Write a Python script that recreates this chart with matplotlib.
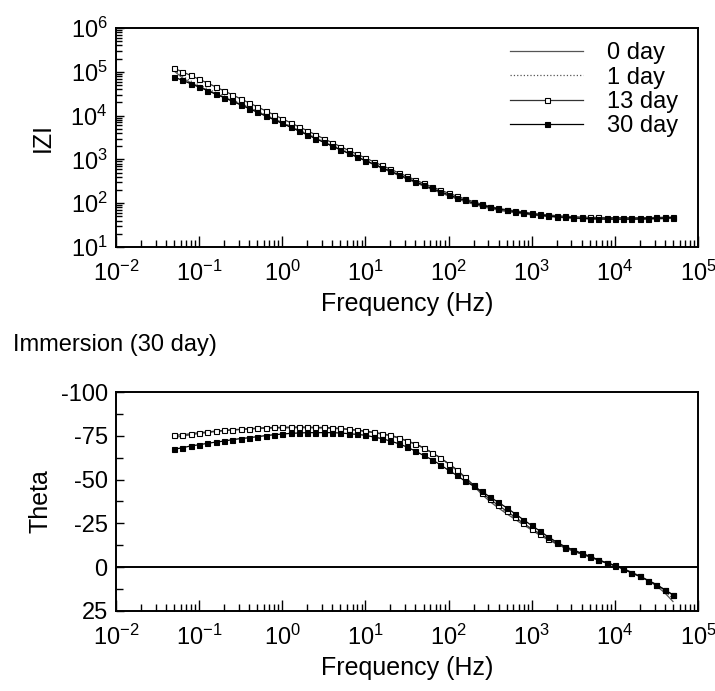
#!/usr/bin/env python
# -*- coding: utf-8 -*-
"""Bode plots (|Z| and phase) for the immersion test, 0/1/13/30 day."""
import numpy as np
import matplotlib
matplotlib.use('Agg')
import matplotlib.pyplot as plt
from matplotlib.ticker import LogLocator, MultipleLocator, NullFormatter

plt.rcParams['font.family'] = ['Liberation Sans', 'DejaVu Sans']
plt.rcParams['mathtext.fontset'] = 'custom'
plt.rcParams['mathtext.rm'] = 'Liberation Sans'
plt.rcParams['mathtext.it'] = 'Liberation Sans'
plt.rcParams['axes.unicode_minus'] = False

# measured frequencies (Hz), 10 points per decade
freq = [0.05, 0.0631, 0.0794, 0.1, 0.126, 0.158, 0.2, 0.251, 0.316, 0.398,
        0.5, 0.631, 0.794, 1, 1.26, 1.58, 2, 2.51, 3.16, 3.98,
        5, 6.31, 7.94, 10, 12.6, 15.8, 20, 25.1, 31.6, 39.8,
        50, 63.1, 79.4, 100, 126, 158, 200, 251, 316, 398,
        500, 631, 794, 1000, 1260, 1580, 2000, 2510, 3160, 3980,
        5000, 6310, 7940, 10000, 12600, 15800, 20000, 25100, 31600, 39800, 50000]

# log10 |Z| (ohm)
logz_0day = [5.02, 4.86, 4.75, 4.665, 4.585, 4.505, 4.424, 4.342, 4.259, 4.175,
             4.090, 4.005, 3.919, 3.833, 3.746, 3.659, 3.572, 3.484, 3.397, 3.310,
             3.224, 3.138, 3.053, 2.968, 2.884, 2.800, 2.717, 2.635, 2.553, 2.472,
             2.393, 2.315, 2.240, 2.168, 2.100, 2.036, 1.978, 1.926, 1.880, 1.842,
             1.810, 1.782, 1.757, 1.734, 1.714, 1.697, 1.682, 1.669, 1.658, 1.650,
             1.644, 1.640, 1.637, 1.635, 1.634, 1.634, 1.636, 1.639, 1.643, 1.649, 1.657]
logz_1day = [5.04, 4.90, 4.79, 4.70, 4.615, 4.532, 4.449, 4.365, 4.280, 4.195,
             4.109, 4.023, 3.937, 3.850, 3.763, 3.676, 3.589, 3.501, 3.414, 3.327,
             3.240, 3.154, 3.068, 2.983, 2.898, 2.814, 2.731, 2.648, 2.566, 2.485,
             2.405, 2.327, 2.251, 2.178, 2.109, 2.044, 1.985, 1.932, 1.886, 1.847,
             1.815, 1.787, 1.762, 1.739, 1.719, 1.702, 1.687, 1.674, 1.663, 1.655,
             1.649, 1.645, 1.642, 1.640, 1.639, 1.639, 1.641, 1.644, 1.648, 1.654, 1.662]
logz_13day = [5.080, 5.000, 4.917, 4.832, 4.745, 4.657, 4.566, 4.475, 4.384, 4.293,
              4.202, 4.111, 4.020, 3.929, 3.838, 3.747, 3.656, 3.565, 3.474, 3.383,
              3.295, 3.207, 3.120, 3.033, 2.947, 2.862, 2.778, 2.695, 2.613, 2.532,
              2.452, 2.375, 2.301, 2.230, 2.162, 2.097, 2.035, 1.977, 1.925, 1.883,
              1.852, 1.828, 1.800, 1.772, 1.752, 1.733, 1.716, 1.702, 1.692, 1.684,
              1.678, 1.675, 1.672, 1.670, 1.669, 1.669, 1.670, 1.672, 1.675, 1.679, 1.685]
logz_30day = [4.881, 4.806, 4.729, 4.651, 4.572, 4.492, 4.411, 4.329, 4.246, 4.162,
              4.078, 3.993, 3.908, 3.822, 3.736, 3.650, 3.563, 3.476, 3.391, 3.306,
              3.222, 3.139, 3.057, 2.975, 2.894, 2.813, 2.733, 2.653, 2.573, 2.494,
              2.415, 2.338, 2.264, 2.193, 2.126, 2.063, 2.005, 1.953, 1.908, 1.869,
              1.836, 1.806, 1.777, 1.750, 1.727, 1.708, 1.692, 1.678, 1.665, 1.655,
              1.648, 1.643, 1.640, 1.639, 1.639, 1.640, 1.643, 1.647, 1.653, 1.661, 1.672]

# phase angle (deg)
theta_0day = [-74.0, -74.8, -75.6, -76.3, -76.9, -77.4, -77.9, -78.3, -78.6, -78.9,
              -79.1, -79.3, -79.4, -79.5, -79.6, -79.6, -79.6, -79.5, -79.4, -79.2,
              -79.0, -78.6, -78.1, -77.5, -76.8, -76.0, -75.0, -73.7, -72.0, -70.2,
              -68.0, -65.4, -62.4, -59.0, -55.2, -51.0, -46.4, -41.6, -37.4, -33.8,
              -30.5, -27.3, -24.2, -21.2, -18.2, -15.6, -13.2, -11.0, -9.2, -7.5,
              -5.9, -4.2, -2.6, -1.0, 0.8, 2.8, 5.0, 7.6, 10.7, 14.6, 19.6]
theta_1day = [-74.6, -75.2, -75.9, -76.5, -77.0, -77.5, -78.0, -78.4, -78.7, -79.0,
              -79.2, -79.4, -79.6, -79.6, -79.8, -79.8, -79.8, -79.6, -79.6, -79.3,
              -79.1, -78.6, -78.2, -77.6, -76.9, -76.1, -75.1, -73.8, -72.0, -70.3,
              -68.1, -65.4, -62.4, -59.0, -55.4, -51.2, -46.6, -42.3, -38.0, -34.5,
              -31.2, -27.9, -24.6, -21.6, -18.6, -15.9, -13.4, -11.1, -9.2, -7.5,
              -5.9, -4.1, -2.5, -0.9, 0.9, 3.0, 5.1, 7.6, 10.3, 13.8, 17.8]
theta_13day = [-75.3, -75.6, -76.2, -76.8, -77.2, -77.7, -78.1, -78.5, -78.7, -79.1,
               -79.4, -79.6, -79.8, -79.8, -80.0, -80.0, -80.0, -79.8, -79.8, -79.5,
               -79.3, -78.7, -78.3, -77.7, -77.0, -76.2, -75.3, -74.0, -72.1, -70.5,
               -68.2, -65.4, -62.5, -59.1, -55.7, -51.4, -46.8, -42.5, -38.7, -35.3,
               -32.0, -28.6, -25.1, -21.9, -19.1, -16.2, -13.6, -11.2, -9.3, -7.5,
               -5.9, -4.0, -2.3, -0.8, 1.0, 3.2, 5.3, 7.6, 9.9, 12.9, 15.8]
theta_30day = [-67.3, -68.2, -69.2, -69.9, -70.7, -71.4, -72.0, -72.8, -73.4, -73.9,
               -74.5, -75.1, -75.6, -76.0, -76.4, -76.6, -76.8, -76.8, -76.8, -76.8,
               -76.6, -76.2, -75.8, -75.3, -74.3, -73.4, -72.0, -70.5, -68.6, -66.3,
               -63.8, -61.4, -58.5, -55.3, -52.4, -49.1, -46.3, -43.3, -40.0, -37.0,
               -33.9, -30.5, -27.1, -23.8, -20.6, -17.3, -14.3, -11.8, -9.9, -8.0,
               -6.3, -4.2, -2.5, -1.0, 0.9, 3.2, 5.3, 7.6, 9.9, 12.9, 15.8]

labels = ['0 day', '1 day', '13 day', '30 day']

FS = 17
SPINE_W = 1.4


def style_axes(ax):
    for s in ax.spines.values():
        s.set_linewidth(SPINE_W)
    ax.tick_params(which='both', direction='in', top=False, right=False,
                   labelsize=FS, width=1.0, pad=6)
    ax.set_xscale('log')
    ax.set_xlim(1e-2, 1e5)
    ax.xaxis.set_major_locator(LogLocator(base=10, numticks=20))
    ax.xaxis.set_minor_locator(LogLocator(base=10, subs=np.arange(2, 10), numticks=20))
    ax.xaxis.set_minor_formatter(NullFormatter())
    ax.tick_params(axis='x', which='major', length=8, pad=10)
    ax.tick_params(axis='x', which='minor', length=5)
    ax.set_xlabel('Frequency (Hz)', fontsize=18, labelpad=4)


def draw_series(ax, y0, y1, y13, y30):
    ax.plot(freq, y0, '-', color='#555555', lw=0.9, label=labels[0])
    ax.plot(freq, y1, ':', color='#555555', lw=0.9, label=labels[1])
    ax.plot(freq, y13, '-', color='#333333', lw=0.9, marker='s', ms=3.6,
            mfc='white', mec='black', mew=0.8, label=labels[2])
    ax.plot(freq, y30, '-', color='black', lw=0.9, marker='s', ms=3.6,
            mfc='black', mec='black', mew=0.8, label=labels[3])


fig = plt.figure(figsize=(7.15, 6.91), dpi=100)
ax1 = fig.add_axes([0.1622, 0.6425, 0.8140, 0.3169])
ax2 = fig.add_axes([0.1622, 0.1158, 0.8140, 0.3169])

# |Z| plot
style_axes(ax1)
draw_series(ax1, np.power(10.0, logz_0day), np.power(10.0, logz_1day),
            np.power(10.0, logz_13day), np.power(10.0, logz_30day))
ax1.set_yscale('log')
ax1.set_ylim(1e1, 1e6)
ax1.yaxis.set_major_locator(LogLocator(base=10, numticks=10))
ax1.yaxis.set_minor_locator(LogLocator(base=10, subs=np.arange(2, 10), numticks=10))
ax1.yaxis.set_minor_formatter(NullFormatter())
ax1.tick_params(axis='y', which='major', length=6)
ax1.tick_params(axis='y', which='minor', length=4)
ax1.set_ylabel('IZI', fontsize=18, labelpad=11)
leg = ax1.legend(loc='upper right', bbox_to_anchor=(0.99, 1.0), frameon=False,
                 fontsize=FS, handlelength=3.1, handletextpad=1.0,
                 labelspacing=0.1, numpoints=1, borderaxespad=0.2)

# phase plot
style_axes(ax2)
draw_series(ax2, theta_0day, theta_1day, theta_13day, theta_30day)
ax2.axhline(0, color='black', lw=SPINE_W)
ax2.set_ylim(25, -100)
ax2.yaxis.set_major_locator(MultipleLocator(25))
ax2.yaxis.set_minor_locator(MultipleLocator(12.5))
ax2.tick_params(axis='y', which='major', length=6)
ax2.tick_params(axis='y', which='minor', length=5)
ax2.set_ylabel('Theta', fontsize=18, labelpad=6)

fig.text(0.018, 0.500, 'Immersion (30 day)', fontsize=FS, va='center', ha='left')

fig.savefig('out.png', dpi=100)
